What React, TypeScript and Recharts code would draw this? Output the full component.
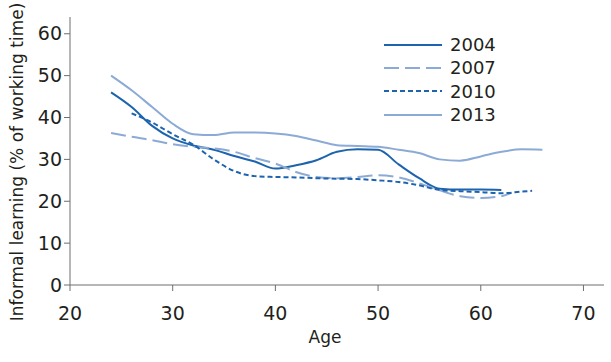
import { LineChart, Line, XAxis, YAxis, Legend } from 'recharts';

// Age groups (x) and informal learning share (y)
const ages2004 = [24, 26, 28, 30, 32, 34, 36, 38, 40, 42, 44, 46, 48, 50, 52, 54, 56, 58, 60, 62];
const values2004 = [46, 42.5, 38, 35, 33.3, 32.3, 30.8, 29.5, 27.8, 28.6, 29.8, 31.8, 32.4, 32.3, 28.8, 25.5, 23, 22.8, 22.8, 22.7];

const ages2007 = [24, 26, 28, 30, 32, 34, 36, 38, 40, 42, 44, 46, 48, 50, 52, 54, 56, 58, 60, 62, 63];
const values2007 = [36.3, 35.4, 34.6, 33.6, 33, 32.6, 31.8, 30.3, 29, 27, 25.8, 25.5, 25.8, 26.2, 25.7, 24.3, 22.6, 21.2, 20.8, 21.2, 22];

const ages2010 = [26, 28, 30, 32, 34, 36, 38, 40, 42, 44, 46, 48, 50, 52, 54, 56, 58, 60, 62, 64, 65];
const values2010 = [41, 38.8, 36, 33.5, 30, 27.2, 26, 25.8, 25.7, 25.5, 25.4, 25.3, 25, 24.6, 23.8, 22.7, 22.4, 22.2, 21.9, 22.3, 22.5];

const ages2013 = [24, 26, 28, 30, 32, 34, 36, 38, 40, 42, 44, 46, 48, 50, 52, 54, 56, 58, 60, 62, 64, 66];
const values2013 = [50, 46.5, 42.5, 38.5, 36, 35.8, 36.4, 36.4, 36.2, 35.6, 34.5, 33.4, 33.2, 33, 32.3, 31.5, 30, 29.7, 30.7, 31.8, 32.4, 32.3];

const xTicks = [20, 30, 40, 50, 60, 70];
const yTicks = [0, 10, 20, 30, 40, 50, 60];

const DARK = '#1d63ad';
const LIGHT = '#8caad6';
const TEXT = '#231f20';
const AXIS = '#6d6e71';
const FONT = '"DejaVu Sans", sans-serif';

const toPoints = (ages: number[], values: number[]) =>
  ages.map((age, i) => ({ age, value: values[i] }));

const series = [
  { name: '2004', data: toPoints(ages2004, values2004), color: DARK, dash: undefined, width: 2 },
  { name: '2007', data: toPoints(ages2007, values2007), color: LIGHT, dash: '15 6', width: 2 },
  { name: '2010', data: toPoints(ages2010, values2010), color: DARK, dash: '5 3', width: 2 },
  { name: '2013', data: toPoints(ages2013, values2013), color: LIGHT, dash: undefined, width: 2 },
];

const renderLegend = (props: any) => {
  const { payload } = props;
  return (
    <div>
      {payload.map((entry: any) => (
        <div key={entry.value} style={{ display: 'flex', alignItems: 'center', height: 23.3 }}>
          <svg width={60} height={6}>
            <line
              x1={1}
              y1={3}
              x2={59}
              y2={3}
              stroke={entry.color}
              strokeWidth={2}
              strokeDasharray={entry.payload?.strokeDasharray}
            />
          </svg>
          <span style={{ marginLeft: 7, fontSize: 18, color: TEXT, fontFamily: FONT }}>{entry.value}</span>
        </div>
      ))}
    </div>
  );
};

export default function App() {
  return (
    <div style={{ position: 'absolute', left: 0, top: 0, width: 611, height: 362, background: '#fff' }}>
      <LineChart width={611} height={362} margin={{ top: 17, right: 7, left: 12, bottom: 1 }}>
        <XAxis
          dataKey="age"
          type="number"
          domain={[20, 72]}
          ticks={xTicks}
          allowDuplicatedCategory={false}
          height={76}
          tickSize={6}
          tickMargin={16}
          stroke={AXIS}
          tick={{ fill: TEXT, fontSize: 19, fontFamily: FONT }}
          label={{ value: 'Age', position: 'insideBottom', offset: 18, dx: -12, fill: TEXT, fontSize: 17, fontFamily: FONT }}
        />
        <YAxis
          type="number"
          domain={[0, 64]}
          ticks={yTicks}
          width={58}
          tickSize={6}
          tickMargin={2}
          stroke={AXIS}
          tick={{ fill: TEXT, fontSize: 19, fontFamily: FONT }}
          label={{
            value: 'Informal learning (% of working time)',
            angle: -90,
            position: 'insideLeft',
            offset: 5,
            dy: 11,
            fill: TEXT,
            fontSize: 17,
            fontFamily: FONT,
            style: { textAnchor: 'middle' },
          }}
        />
        <Legend
          layout="vertical"
          align="center"
          verticalAlign="middle"
          content={renderLegend}
          wrapperStyle={{ position: 'absolute', left: 383, top: 33, width: 140 }}
        />
        {series.map((s) => (
          <Line
            key={s.name}
            data={s.data}
            dataKey="value"
            name={s.name}
            type="monotone"
            stroke={s.color}
            strokeWidth={s.width}
            strokeDasharray={s.dash}
            dot={false}
            isAnimationActive={false}
          />
        ))}
      </LineChart>
    </div>
  );
}
